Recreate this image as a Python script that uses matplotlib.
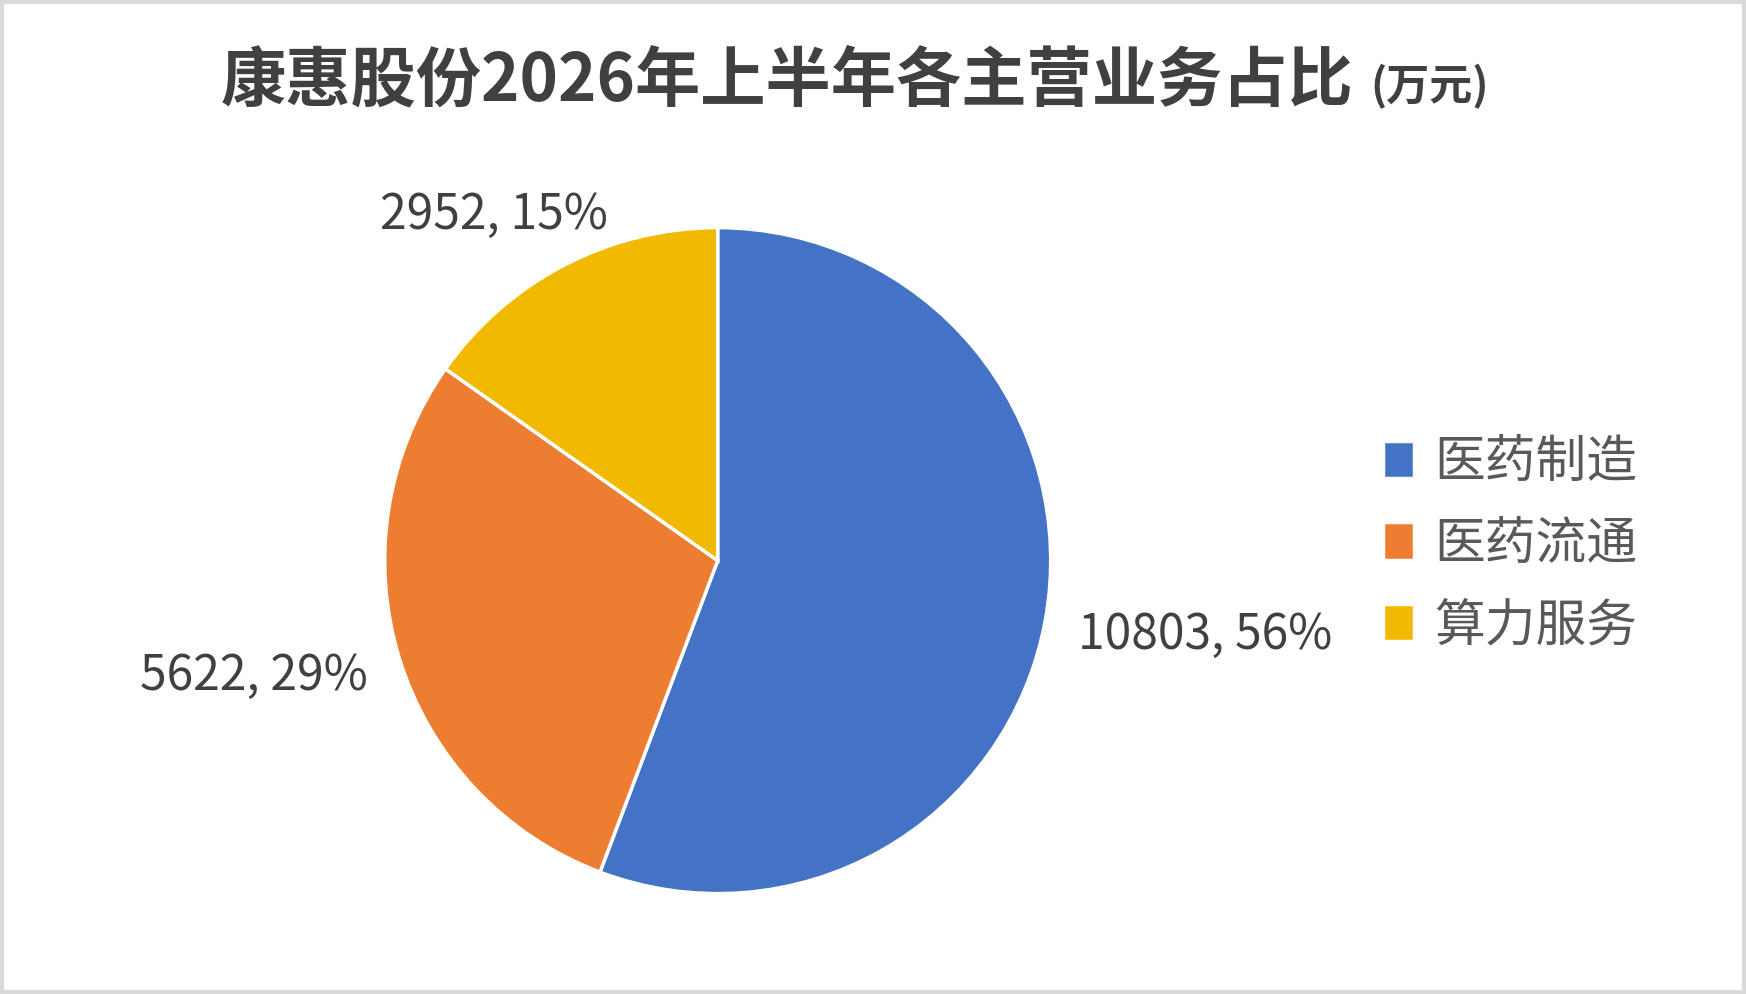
import numpy as np
import matplotlib
matplotlib.use("Agg")
import matplotlib.pyplot as plt
from matplotlib.patches import Rectangle

plt.rcParams['font.family'] = ['Noto Sans CJK SC', 'DejaVu Sans']

# 数据
categories = ['医药制造', '医药流通', '算力服务']
values = [10803, 5622, 2952]
colors = ['#4472C4', '#ED7D31', '#F1BA00']
title_main = '康惠股份2026年上半年各主营业务占比'
title_unit = '(万元)'

fig = plt.figure(figsize=(17.46, 9.94), dpi=100)
fig.patch.set_facecolor('white')

# 饼图区域
ax = fig.add_axes([0.2203, 0.101, 0.3815, 0.670])
wedges, _ = ax.pie(values, colors=colors, startangle=90, counterclock=False,
                   radius=1.0,
                   wedgeprops=dict(edgecolor='white', linewidth=2.5))
ax.set_xlim(-1, 1)
ax.set_ylim(-1, 1)
ax.set_aspect('equal')
ax.axis('off')

# 数据标签 (数值, 百分比)
total = sum(values)
ha_list = ['left', 'right', 'center']
va_list = ['center', 'center', 'bottom']
xoff = [0, 0, -40]
yoff = [-6, -6, -3]
start = 90.0
for i, v in enumerate(values):
    span = v / total * 360
    mid = np.deg2rad(start - span / 2)
    start -= span
    x, y = 1.1 * np.cos(mid), 1.1 * np.sin(mid)
    ax.annotate(f'{v}, {v / total:.0%}', xy=(x, y), xytext=(xoff[i], yoff[i]),
                textcoords='offset points', ha=ha_list[i], va=va_list[i],
                fontsize=34.5, color='#404040', annotation_clip=False)

# 图例
fig.legend(wedges, categories, loc='center left', bbox_to_anchor=(0.792, 0.452),
           frameon=False, fontsize=36.5, labelcolor='#595959',
           handlelength=0.62, handleheight=0.75, handletextpad=0.4,
           labelspacing=0.58, borderpad=0, borderaxespad=0)

# 标题
fig.text(0.775, 0.899, title_main, ha='right', va='baseline',
         fontsize=47, fontweight='bold', color='#404040')
fig.text(0.785, 0.899, title_unit, ha='left', va='baseline',
         fontsize=31, fontweight='bold', color='#404040')

# 外框
fig.patches.append(Rectangle((0.001, 0.002), 0.998, 0.996, transform=fig.transFigure,
                             fill=False, edgecolor='#D9D9D9', linewidth=3))

fig.savefig('out.png', dpi=100, facecolor='white')
